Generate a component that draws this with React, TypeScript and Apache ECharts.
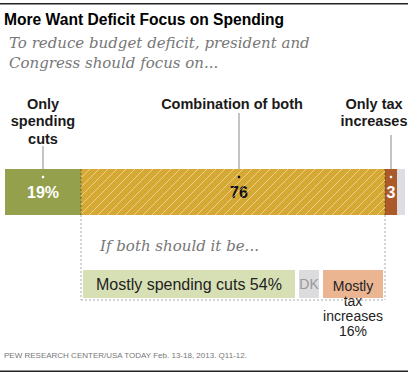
import React, { useEffect, useRef } from 'react';
import * as echarts from 'echarts';

const mainCategories = ['Only spending cuts', 'Combination of both', 'Only tax increases', 'Other'];
const mainValues = [19, 76, 3, 2];
const mainLabels = ['19%', '76', '3', ''];
const mainColors = ['#94a04c', '#d6a934', '#ad5a2a', '#dedee2'];

const subCategories = ['Mostly spending cuts', 'DK', 'Mostly tax increases'];
const subValues = [54, 6, 16];
const subLabels = ['Mostly spending cuts 54%', 'DK', 'Mostly\ntax\nincreases\n16%'];
const subColors = ['#d7e0b5', '#dcdcdf', '#ebb592'];

const titleText = 'More Want Deficit Focus on Spending';
const subtitleText = 'To reduce budget deficit, president and\nCongress should focus on...';
const subQuestion = 'If both should it be...';
const sourceText = 'PEW RESEARCH CENTER/USA TODAY Feb. 13-18, 2013. Q11-12.';

export default function App() {
  const ref = useRef<HTMLDivElement>(null);
  useEffect(() => {
    const chart = echarts.init(ref.current!, null, { renderer: 'svg' });
    const sans = 'Liberation Sans, Arial, sans-serif';
    const serif = 'DejaVu Serif, Georgia, serif';

    const mainSeries: any[] = mainValues.map((v, i) => ({
      type: 'bar',
      name: mainCategories[i],
      xAxisIndex: 0,
      yAxisIndex: 0,
      stack: 'main',
      barWidth: '100%',
      data: [v],
      itemStyle: { color: mainColors[i] },
      label: {
        show: mainLabels[i] !== '',
        formatter: mainLabels[i],
        position: 'inside',
        offset: i === 1 ? [6, 0] : [0, 0],
        color: i === 1 ? '#111' : '#fff',
        fontFamily: sans,
        fontWeight: 'bold',
        fontSize: 16,
      },
      z: 2,
    }));

    const subSeries: any[] = [
      {
        type: 'bar',
        name: 'spacer',
        xAxisIndex: 1,
        yAxisIndex: 1,
        stack: 'sub',
        barWidth: '100%',
        silent: true,
        data: [mainValues[0]],
        itemStyle: { color: 'transparent' },
      },
      ...subValues.map((v, i) => ({
        type: 'bar',
        name: subCategories[i],
        xAxisIndex: 1,
        yAxisIndex: 1,
        stack: 'sub',
        barWidth: '100%',
        data: [v],
        itemStyle: { color: subColors[i], borderColor: '#fff', borderWidth: 2 },
        label: {
          show: true,
          formatter: subLabels[i],
          position: i === 0 ? 'insideLeft' : i === 1 ? 'inside' : ['50%', 10],
          distance: 15,
          align: i === 0 ? 'left' : 'center',
          verticalAlign: i === 2 ? 'top' : 'middle',
          color: i === 1 ? '#999' : '#222',
          fontFamily: sans,
          fontSize: i === 0 ? 16 : 14,
          lineHeight: 15,
        },
      })),
    ];

    chart.setOption({
      animation: false,
      grid: [
        { left: 5, top: 169, width: 400, height: 46 },
        { left: 5, top: 268, width: 400, height: 32 },
      ],
      xAxis: [
        { type: 'value', gridIndex: 0, min: 0, max: 100, show: false },
        { type: 'value', gridIndex: 1, min: 0, max: 100, show: false },
      ],
      yAxis: [
        { type: 'category', gridIndex: 0, data: ['all'], show: false },
        { type: 'category', gridIndex: 1, data: ['both'], show: false },
      ],
      series: [...mainSeries, ...subSeries],
    });

    const px = (v: number, idx: number) => chart.convertToPixel({ xAxisIndex: idx }, v) as number;
    const b1 = px(mainValues[0], 0);
    const b2 = px(mainValues[0] + mainValues[1], 0);
    const c0 = px(mainValues[0] / 2, 0);
    const cGold = px(mainValues[0] + mainValues[1] / 2, 0);
    const c1 = cGold + 6;
    const c2 = px(mainValues[0] + mainValues[1] + mainValues[2] / 2, 0);
    const barTop = 169;
    const barBottom = 215;
    const subBottom = 300;
    const lineColor = '#8a8a8a';

    // diagonal hatch ("/") over the combination segment
    const hatch: any[] = [];
    const h = barBottom - barTop;
    for (let x0 = b1 - h; x0 < b2; x0 += 9) {
      const t0 = Math.max(0, b1 - x0);
      const t1 = Math.min(h, b2 - x0);
      if (t1 <= t0) continue;
      hatch.push({
        type: 'line',
        silent: true,
        z: 50,
        shape: { x1: x0 + t0, y1: barBottom - t0, x2: x0 + t1, y2: barBottom - t1 },
        style: { stroke: 'rgba(255,255,255,0.45)', lineWidth: 1 },
      });
    }

    const catStyle = {
      fill: '#1a1a1a',
      font: `bold 14.5px ${sans}`,
      textAlign: 'center',
      textVerticalAlign: 'top',
      lineHeight: 17.5,
    };

    chart.setOption({
      graphic: [
        ...hatch,
        { type: 'rect', shape: { x: 0, y: 3, width: 408, height: 1.4 }, style: { fill: '#222' } },
        { type: 'rect', shape: { x: 0, y: 370.5, width: 408, height: 1.4 }, style: { fill: '#222' } },
        {
          type: 'text',
          x: 4,
          y: 19,
          style: { text: titleText, fill: '#000', font: `bold 15.6px ${sans}`, textVerticalAlign: 'middle' },
        },
        {
          type: 'text',
          x: 9,
          y: 33,
          style: {
            text: subtitleText,
            fill: '#777',
            font: `italic 15px ${serif}`,
            lineHeight: 20,
            textVerticalAlign: 'top',
          },
        },
        { type: 'text', x: c0, y: 95, style: { ...catStyle, text: 'Only\nspending\ncuts' } },
        { type: 'text', x: cGold - 1, y: 95, style: { ...catStyle, text: 'Combination of both' } },
        { type: 'text', x: 374, y: 95, style: { ...catStyle, text: 'Only tax\nincreases' } },
        { type: 'line', shape: { x1: c0, y1: 146, x2: c0, y2: barTop }, style: { stroke: lineColor, lineWidth: 1 } },
        { type: 'line', shape: { x1: c1, y1: 113, x2: c1, y2: barTop }, style: { stroke: lineColor, lineWidth: 1 } },
        { type: 'line', shape: { x1: c2, y1: 135, x2: c2, y2: barTop }, style: { stroke: lineColor, lineWidth: 1 } },
        { type: 'circle', shape: { cx: c0, cy: 177, r: 1.3 }, style: { fill: '#fff' }, z: 100 },
        { type: 'circle', shape: { cx: c1, cy: 177, r: 1.3 }, style: { fill: '#111' }, z: 100 },
        { type: 'circle', shape: { cx: c2, cy: 177, r: 1.3 }, style: { fill: '#fff' }, z: 100 },
        {
          type: 'line',
          shape: { x1: b1, y1: barTop, x2: b1, y2: barBottom },
          style: { stroke: 'rgba(60,50,20,0.55)', lineWidth: 1, lineDash: [2, 2] },
          z: 100,
        },
        {
          type: 'line',
          shape: { x1: b2, y1: barTop, x2: b2, y2: barBottom },
          style: { stroke: 'rgba(60,50,20,0.55)', lineWidth: 1, lineDash: [2, 2] },
          z: 100,
        },
        {
          type: 'line',
          shape: { x1: b1, y1: barBottom, x2: b1, y2: subBottom },
          style: { stroke: '#aaa', lineWidth: 1, lineDash: [2, 2] },
          z: 100,
        },
        {
          type: 'line',
          shape: { x1: b2, y1: barBottom, x2: b2, y2: subBottom },
          style: { stroke: '#aaa', lineWidth: 1, lineDash: [2, 2] },
          z: 100,
        },
        {
          type: 'line',
          shape: { x1: b1, y1: subBottom, x2: b2, y2: subBottom },
          style: { stroke: '#aaa', lineWidth: 1, lineDash: [2, 2] },
          z: 100,
        },
        {
          type: 'text',
          x: 100,
          y: 246,
          style: { text: subQuestion, fill: '#777', font: `italic 15px ${serif}`, textVerticalAlign: 'middle' },
        },
        {
          type: 'text',
          x: 4,
          y: 355,
          style: { text: sourceText, fill: '#777', font: `8px ${sans}`, textVerticalAlign: 'middle' },
        },
      ],
    });

    return () => chart.dispose();
  }, []);
  return <div ref={ref} style={{ position: 'absolute', left: 0, top: 0, width: 413, height: 374 }} />;
}
